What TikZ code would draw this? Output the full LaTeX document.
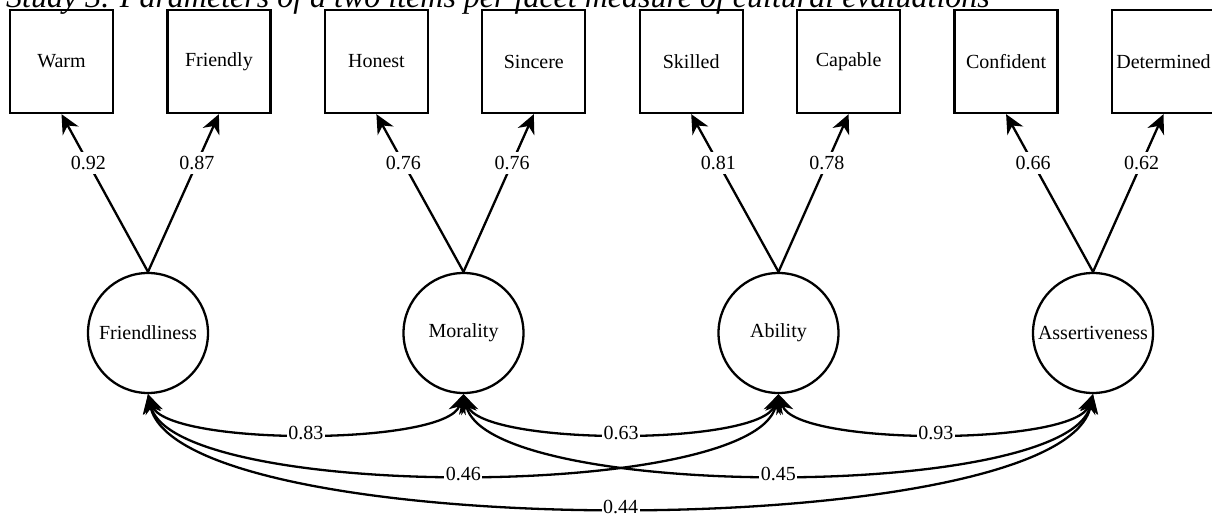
\documentclass[tikz,border=0pt]{standalone}
\usepackage{fontspec}
\setmainfont{Liberation Serif}
\usetikzlibrary{arrows.meta}
\begin{document}
\begin{tikzpicture}[x=1pt,y=-1pt,
  lbl/.style={font=\fontsize{20}{22}\selectfont},
  item/.style={draw, line width=2.3pt, minimum width=103pt, minimum height=103pt, inner sep=0pt, lbl},
  factor/.style={draw, circle, line width=2.3pt, minimum size=120pt, inner sep=0pt, lbl},
  load/.style={line width=2.3pt, arrows={-Stealth[length=19pt,width=18pt,inset=6pt]}},
  cov/.style={line width=2.3pt, arrows={Stealth[length=19pt,width=18pt,inset=6pt]-Stealth[length=19pt,width=18pt,inset=6pt]}},
  val/.style={fill=white, inner sep=1.5pt, lbl},
  lval/.style={fill=white, inner xsep=1pt, inner ysep=4pt, lbl}]
\useasboundingbox (0,0) rectangle (1212,517);
\clip (0,0) rectangle (1212,517);
\node[anchor=base west, inner sep=0pt, font=\fontsize{32}{36}\selectfont\itshape] (title) at (6,7) {Study 3. Parameters of a two items per facet measure of cultural evaluations};
% items
\node[item] (warm) at (61.5,61.5) {Warm};
\node[item] (friendly) at (218.9,61.5) {Friendly};
\node[item] (honest) at (376.4,61.5) {Honest};
\node[item] (sincere) at (533.8,61.5) {Sincere};
\node[item] (skilled) at (691.2,61.5) {Skilled};
\node[item] (capable) at (848.6,61.5) {Capable};
\node[item] (confident) at (1006.1,61.5) {Confident};
\node[item] (determined) at (1163.5,61.5) {Determined};
% factors
\node[factor] (fr) at (148,333) {Friendliness};
\node[factor] (mo) at (463.5,333) {Morality};
\node[factor] (ab) at (778.5,333) {Ability};
\node[factor] (as) at (1093,333) {Assertiveness};
% loadings
\draw[load] (fr.north) -- (warm.south) node[lval, pos=0.69] {0.92};
\draw[load] (fr.north) -- (friendly.south) node[lval, pos=0.69] {0.87};
\draw[load] (mo.north) -- (honest.south) node[lval, pos=0.69] {0.76};
\draw[load] (mo.north) -- (sincere.south) node[lval, pos=0.69] {0.76};
\draw[load] (ab.north) -- (skilled.south) node[lval, pos=0.69] {0.81};
\draw[load] (ab.north) -- (capable.south) node[lval, pos=0.69] {0.78};
\draw[load] (as.north) -- (confident.south) node[lval, pos=0.69] {0.66};
\draw[load] (as.north) -- (determined.south) node[lval, pos=0.69] {0.62};
% covariances
\draw[cov] (fr.south) .. controls +(18,52) and +(-18,52) .. (mo.south) node[val, midway] {0.83};
\draw[cov] (mo.south) .. controls +(18,52) and +(-18,52) .. (ab.south) node[val, midway] {0.63};
\draw[cov] (ab.south) .. controls +(18,52) and +(-18,52) .. (as.south) node[val, midway] {0.93};
\draw[cov] (fr.south) .. controls +(25,107) and +(-25,107) .. (ab.south) node[val, midway] {0.46};
\draw[cov] (mo.south) .. controls +(25,107) and +(-25,107) .. (as.south) node[val, midway] {0.45};
\draw[cov] (fr.south) .. controls +(30,151) and +(-30,151) .. (as.south) node[val, midway] {0.44};
\end{tikzpicture}
\end{document}
